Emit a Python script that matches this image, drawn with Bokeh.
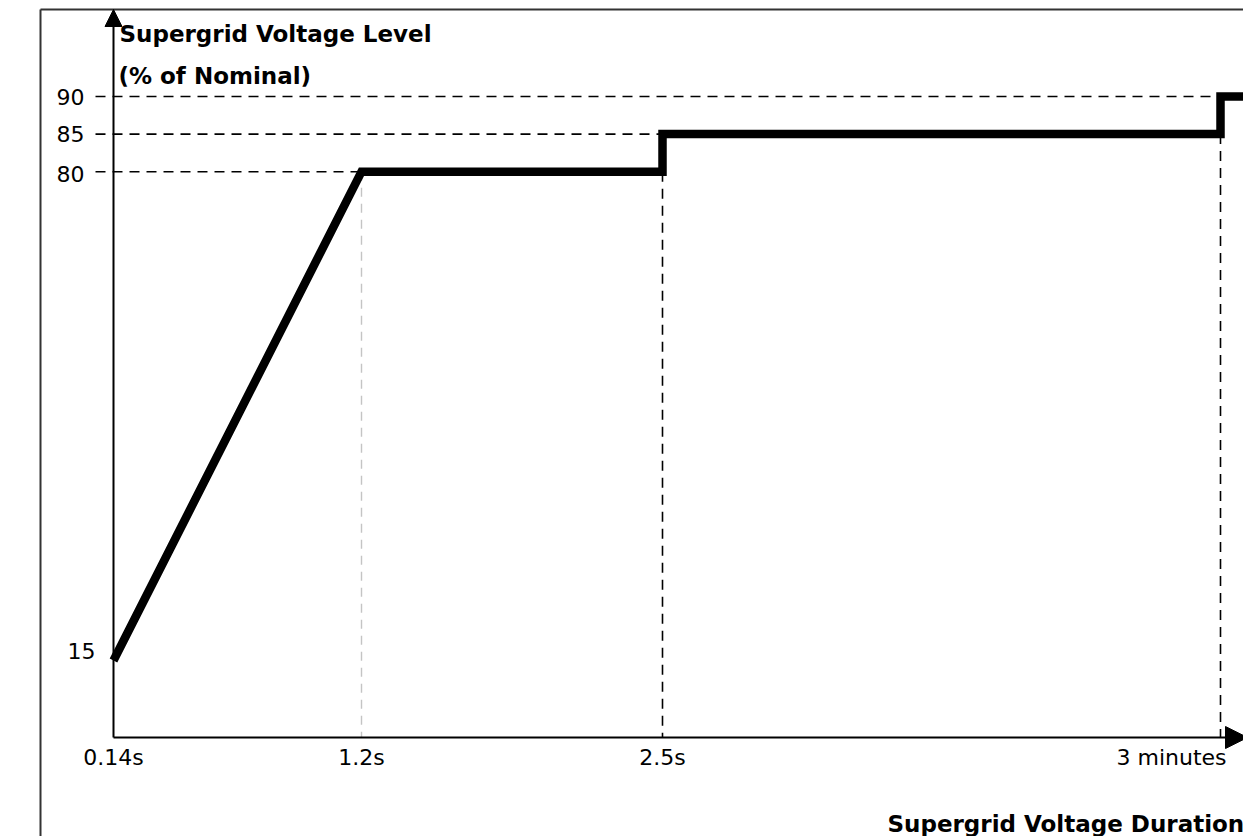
from bokeh.plotting import figure
from bokeh.models import Range1d, Arrow, NormalHead
from bokeh.core.properties import value
from bokeh.embed import file_html
from bokeh.resources import INLINE

# ---- data ----
duration_labels = ["0.14s", "1.2s", "2.5s", "3 minutes"]
duration_pos = [0.0, 2.48, 5.49, 11.07]          # schematic (non-linear) axis positions
level_ticks = [90, 85, 80, 15]                   # % of nominal
# supergrid voltage curve: index into durations, level
curve_idx = [0, 1, 2, 2, 3, 3]
curve_level = [15, 80, 80, 85, 85, 90]
y_title = ["Supergrid Voltage Level", "(% of Nominal)"]
x_title = "Supergrid Voltage Duration"

W, H = 1243, 836
OFF = 0          # page offset of the canvas in the screenshot
X0 = -1.13
PXX = 100.0
X1 = X0 + W / PXX
Y1 = 90 + (96 - OFF) / 7.52
PXY = 7.52
Y0 = Y1 - H / PXY

def sx(px):
    return X0 + (px - OFF) / PXX

def sy(py):
    return Y1 - (py - OFF) / PXY

p = figure(width=W, height=H, output_backend="svg", toolbar_location=None,
           x_range=Range1d(X0, X1), y_range=Range1d(Y0, Y1),
           x_axis_location=None, y_axis_location=None, min_border=0)
p.grid.visible = False
p.outline_line_color = None
p.background_fill_color = "white"

FONT = value("DejaVu Sans")
axis_y = sy(737)

# outer frame (top and left edges visible)
p.segment(x0=[sx(40), sx(40)], y0=[sy(9), sy(9)], x1=[X1 + 1, sx(40)], y1=[sy(9), Y0 - 5],
          line_color="#333333", line_width=2)

cx = [duration_pos[i] for i in curve_idx]
cy = curve_level

# horizontal dashed reference lines
h_end = {90: duration_pos[3], 85: duration_pos[2], 80: duration_pos[1]}
for lv, xe in h_end.items():
    p.line([sx(95), xe], [lv, lv], line_color="black", line_width=1.6, line_dash="10 7")

# vertical dashed reference lines
p.line([duration_pos[1]] * 2, [80, axis_y], line_color="#c4c4c4", line_width=1.4, line_dash="9 7")
p.line([duration_pos[2]] * 2, [80, axis_y], line_color="black", line_width=1.6, line_dash="10 7")
p.line([duration_pos[3]] * 2, [85, axis_y], line_color="black", line_width=1.6, line_dash="10 7")

# axes with arrows
p.add_layout(Arrow(end=NormalHead(size=17, fill_color="black", line_color="black"),
                   x_start=0, y_start=axis_y, x_end=0, y_end=sy(9),
                   line_color="black", line_width=2))
p.add_layout(Arrow(end=NormalHead(size=22, fill_color="black", line_color="black"),
                   x_start=0, y_start=axis_y, x_end=sx(1247), y_end=axis_y,
                   line_color="black", line_width=2))

# the curve
p.line(cx + [X1 + 1], cy + [cy[-1]], line_color="black", line_width=8.5,
       line_join="miter", line_cap="butt")

# y tick labels
yl = [str(v) for v in level_ticks]
p.text(x=[sx(84), sx(84), sx(84), sx(95)], y=level_ticks, text=yl,
       text_font=FONT, text_font_size="22px", text_align="right",
       text_baseline="middle", text_color="black",
       y_offset=[0, 0, 2, -10])

# x tick labels
p.text(x=duration_pos[:3], y=[sy(757)] * 3, text=duration_labels[:3],
       text_font=FONT, text_font_size="22px", text_align="center",
       text_baseline="middle", text_color="black")
p.text(x=[sx(1226)], y=[sy(757)], text=[duration_labels[3]],
       text_font=FONT, text_font_size="22px", text_align="right",
       text_baseline="middle", text_color="black")

# axis titles
p.text(x=[sx(119), sx(118)], y=[sy(33), sy(75)], text=y_title,
       text_font=FONT, text_font_size="23px", text_font_style="bold",
       text_align="left", text_baseline="alphabetic", text_color="black")
p.text(x=[sx(887)], y=[sy(823)], text=[x_title],
       text_font=FONT, text_font_size="23px", text_font_style="bold",
       text_align="left", text_baseline="alphabetic", text_color="black")

open("out.html", "w").write(file_html(p, INLINE))
